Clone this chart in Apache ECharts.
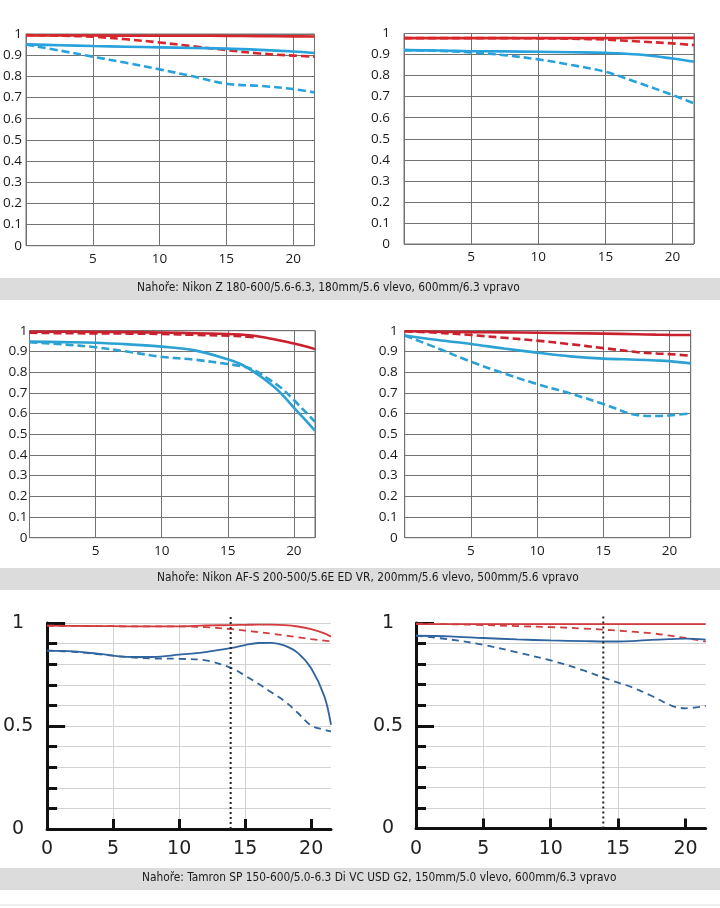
<!DOCTYPE html>
<html>
<head>
<meta charset="utf-8">
<script src="https://cdn.jsdelivr.net/npm/echarts@6/dist/echarts.min.js"></script>
<style>
  html, body { margin: 0; padding: 0; background: #fff; }
  #main { width: 720px; height: 908px; }
</style>
</head>
<body>
<div id="main"></div>
<script>
// ---- data (x = mm from centre, y = contrast) ----
// Nikon Z 180-600, 180mm/5.6
const nz180X        = [0, 2.5, 5, 7.5, 10, 12.5, 15, 17.5, 20, 21.6];
const nz180RedSolid = [0.993, 0.993, 0.993, 0.992, 0.992, 0.992, 0.991, 0.990, 0.989, 0.988];
const nz180RedDash  = [0.995, 0.992, 0.987, 0.975, 0.960, 0.942, 0.924, 0.908, 0.898, 0.893];
const nz180BlueSolid= [0.951, 0.947, 0.943, 0.940, 0.937, 0.934, 0.931, 0.925, 0.917, 0.910];
const nz180BlueDash = [0.950, 0.922, 0.893, 0.864, 0.833, 0.800, 0.765, 0.755, 0.740, 0.724];
// Nikon Z 180-600, 600mm/6.3
const nz600X        = [0, 2.5, 5, 7.5, 10, 12.5, 15, 17.5, 20, 21.6];
const nz600RedSolid = [0.978, 0.978, 0.978, 0.978, 0.978, 0.978, 0.978, 0.979, 0.979, 0.979];
const nz600RedDash  = [0.978, 0.978, 0.978, 0.978, 0.977, 0.975, 0.971, 0.962, 0.953, 0.945];
const nz600BlueSolid= [0.921, 0.919, 0.916, 0.915, 0.913, 0.911, 0.908, 0.900, 0.881, 0.866];
const nz600BlueDash = [0.921, 0.918, 0.910, 0.897, 0.877, 0.850, 0.818, 0.765, 0.708, 0.668];
// Nikon AF-S 200-500, 200mm/5.6
const afs200X        = [0, 2.5, 5, 7.5, 10, 12.5, 15, 16, 17, 18, 19, 20, 21, 21.6];
const afs200RedSolid = [0.995, 0.995, 0.994, 0.993, 0.991, 0.988, 0.984, 0.981, 0.976, 0.965, 0.952, 0.938, 0.922, 0.911];
const afs200RedDash  = [0.990, 0.988, 0.987, 0.986, 0.984, 0.980, 0.976, 0.973, 0.968, null, null, null, null, null];
const afs200BlueSolid= [0.947, 0.945, 0.942, 0.934, 0.923, 0.905, 0.862, 0.838, 0.800, 0.755, 0.700, 0.628, 0.560, 0.517];
const afs200BlueDash = [0.944, 0.934, 0.920, 0.898, 0.874, 0.860, 0.839, 0.829, 0.810, 0.770, 0.726, 0.665, 0.600, 0.560];
// Nikon AF-S 200-500, 500mm/5.6
const afs500X        = [0, 2.5, 5, 7.5, 10, 12.5, 15, 17.5, 19, 20, 21.6];
const afs500RedSolid = [0.997, 0.995, 0.993, 0.992, 0.990, 0.988, 0.986, 0.983, 0.981, 0.980, 0.979];
const afs500RedDash  = [0.997, 0.990, 0.979, 0.966, 0.952, 0.935, 0.916, 0.897, 0.890, 0.887, 0.879];
const afs500BlueSolid= [0.977, 0.955, 0.936, 0.914, 0.894, 0.876, 0.865, 0.860, 0.856, 0.853, 0.842];
const afs500BlueDash = [0.977, 0.915, 0.850, 0.794, 0.742, 0.697, 0.646, 0.593, 0.588, 0.591, 0.600];
// Tamron SP 150-600 G2, 150mm/5.0
const tam150X        = [0, 2, 4, 6, 8, 10, 12, 14, 15, 16, 17, 18, 19, 20, 21, 21.5];
const tam150RedSolid = [0.987, 0.986, 0.985, 0.984, 0.984, 0.984, 0.988, 0.990, 0.991, 0.992, 0.992, 0.990, 0.983, 0.970, 0.950, 0.934];
const tam150RedDash  = [0.987, 0.986, 0.985, 0.984, 0.984, 0.984, 0.980, 0.970, 0.963, 0.956, 0.948, 0.940, 0.931, 0.922, 0.914, 0.911];
const tam150BlueSolid= [0.866, 0.862, 0.850, 0.836, 0.835, 0.846, 0.859, 0.879, 0.893, 0.903, 0.904, 0.890, 0.854, 0.780, 0.644, 0.506];
const tam150BlueDash = [0.866, 0.860, 0.848, 0.835, 0.828, 0.826, 0.819, 0.780, 0.744, 0.705, 0.663, 0.620, 0.563, 0.502, 0.482, 0.474];
// Tamron SP 150-600 G2, 600mm/6.3
const tam600X        = [0, 2.5, 5, 7.5, 10, 12.5, 14, 15, 16, 17.5, 19, 20, 21.5];
const tam600RedSolid = [0.995, 0.995, 0.995, 0.995, 0.995, 0.995, 0.995, 0.995, 0.995, 0.995, 0.995, 0.995, 0.995];
const tam600RedDash  = [0.997, 0.994, 0.990, 0.985, 0.980, 0.973, 0.967, 0.963, 0.958, 0.950, 0.937, 0.927, 0.910];
const tam600BlueSolid= [0.938, 0.935, 0.927, 0.920, 0.915, 0.912, 0.910, 0.910, 0.912, 0.918, 0.922, 0.924, 0.919];
const tam600BlueDash = [0.938, 0.920, 0.894, 0.857, 0.818, 0.768, 0.732, 0.710, 0.688, 0.645, 0.597, 0.585, 0.597];

const tamronMarker = 13.9;   // dotted vertical line

const captions = [
  'Nahoře: Nikon Z 180-600/5.6-6.3, 180mm/5.6 vlevo, 600mm/6.3 vpravo',
  'Nahoře: Nikon AF-S 200-500/5.6E ED VR, 200mm/5.6 vlevo, 500mm/5.6 vpravo',
  'Nahoře: Tamron SP 150-600/5.0-6.3 Di VC USD G2, 150mm/5.0 vlevo, 600mm/6.3 vpravo'
];

// ---- layout ----
const panels = [
  { x: nz180X,  s: [nz180RedDash,  nz180RedSolid,  nz180BlueDash,  nz180BlueSolid],  style: 'nikon', grid: { left: 24.5, top: 34,    width: 290,   height: 211.7 }, xMax: 21.6, yMargin: 4,  red: '#d7262c', blue: '#27a2dc' },
  { x: nz600X,  s: [nz600RedDash,  nz600RedSolid,  nz600BlueDash,  nz600BlueSolid],  style: 'nikon', grid: { left: 404,  top: 33.5,  width: 290,   height: 210.5 }, xMax: 21.6, yMargin: 14, red: '#d7262c', blue: '#27a2dc' },
  { x: afs200X, s: [afs200RedDash, afs200RedSolid, afs200BlueDash, afs200BlueSolid], style: 'nikon', grid: { left: 29.5, top: 330.7, width: 285.5, height: 207 },   xMax: 21.6, yMargin: 2,  red: '#c9212e', blue: '#2ba2d3' },
  { x: afs500X, s: [afs500RedDash, afs500RedSolid, afs500BlueDash, afs500BlueSolid], style: 'nikon', grid: { left: 404.7,top: 330.7, width: 286,   height: 207 },   xMax: 21.6, yMargin: 7,  red: '#c9212e', blue: '#2ba2d3' },
  { x: tam150X, s: [tam150RedDash, tam150RedSolid, tam150BlueDash, tam150BlueSolid], style: 'tamron', grid: { left: 41.7, top: 623,  width: 289.3, height: 206 },   xMax: 21.5, yMargin: 29, red: '#d23c3e', blue: '#30649f' },
  { x: tam600X, s: [tam600RedDash, tam600RedSolid, tam600BlueDash, tam600BlueSolid], style: 'tamron', grid: { left: 416,  top: 623,   width: 289.7, height: 205.5 }, xMax: 21.5, yMargin: 28, red: '#d23c3e', blue: '#30649f' }
];

function pairs(xs, ys) {
  const out = [];
  for (let i = 0; i < xs.length; i++) {
    if (ys[i] != null) out.push([xs[i], ys[i]]);
  }
  return out;
}

const grids = [], xAxes = [], yAxes = [], series = [];

panels.forEach(function (p, i) {
  const nikon = p.style === 'nikon';
  grids.push(Object.assign({
    show: nikon,
    borderColor: '#727272',
    borderWidth: 1,
    containLabel: false
  }, p.grid));

  if (nikon) {
    xAxes.push({
      gridIndex: i, type: 'value', min: 0, max: p.xMax, interval: 5,
      axisLine: { show: false }, axisTick: { show: false },
      splitLine: { show: true, lineStyle: { color: '#727272', width: 1 } },
      axisLabel: {
        margin: 6, color: '#1a1a1a', fontSize: 13.5, fontFamily: 'Open Sans',
        formatter: function (v) { return (v > 0 && v % 5 === 0) ? String(v) : ''; }
      }
    });
    yAxes.push({
      gridIndex: i, type: 'value', min: 0, max: 1, interval: 0.1,
      axisLine: { show: false }, axisTick: { show: false },
      splitLine: { show: true, lineStyle: { color: '#727272', width: 1 } },
      axisLabel: {
        margin: p.yMargin, color: '#1a1a1a', fontSize: 13.5, fontFamily: 'Open Sans',
        formatter: function (v) { return v === 1 ? '1' : (v === 0 ? '0' : v.toFixed(1)); }
      }
    });
  } else {
    xAxes.push({
      gridIndex: i, type: 'value', min: 0, max: p.xMax, interval: 5,
      axisLine: { show: true, lineStyle: { color: '#111', width: 3 } },
      axisTick: { show: true, inside: true, length: 10, customValues: [5, 10, 15, 20], lineStyle: { color: '#111', width: 3 } },
      splitLine: { show: true, showMaxLine: false, lineStyle: { color: '#d2d2d2', width: 1 } },
      axisLabel: {
        margin: 11, color: '#222', fontSize: 19, fontFamily: 'DejaVu Sans',
        customValues: [0, 5, 10, 15, 20],
        formatter: function (v) { return v % 5 === 0 ? String(v) : ''; }
      }
    });
    yAxes.push({
      gridIndex: i, type: 'value', min: 0, max: 1, interval: 0.5,
      axisLine: { show: true, lineStyle: { color: '#111', width: 3 } },
      axisTick: { show: true, inside: true, length: 18, lineStyle: { color: '#111', width: 3 } },
      minorTick: { show: true, splitNumber: 5, length: 10, lineStyle: { color: '#111', width: 3 } },
      splitLine: { show: true, lineStyle: { color: '#d2d2d2', width: 1 } },
      minorSplitLine: { show: true, lineStyle: { color: '#d2d2d2', width: 1 } },
      axisLabel: {
        margin: p.yMargin, align: 'center', color: '#222', fontSize: 19, fontFamily: 'DejaVu Sans',
        formatter: function (v) { return v === 0.5 ? '0.5' : String(v); }
      }
    });
  }

  const w = nikon ? 2.6 : 1.8;
  const dash = nikon ? [8, 4] : [7, 5];
  const defs = [
    { data: p.s[0], color: p.red,  type: dash },
    { data: p.s[1], color: p.red,  type: 'solid' },
    { data: p.s[2], color: p.blue, type: dash },
    { data: p.s[3], color: p.blue, type: 'solid' }
  ];
  defs.forEach(function (d) {
    series.push({
      type: 'line', xAxisIndex: i, yAxisIndex: i,
      data: pairs(p.x, d.data),
      smooth: 0.35, showSymbol: false, symbol: 'none',
      lineStyle: { color: d.color, width: w, type: d.type },
      z: 3
    });
  });

  if (!nikon) {
    series.push({
      type: 'line', xAxisIndex: i, yAxisIndex: i,
      data: [[tamronMarker, 0], [tamronMarker, 1.035]],
      clip: false, showSymbol: false, symbol: 'none',
      lineStyle: { color: '#222', width: 2, type: [2, 3] },
      z: 4
    });
  }
});

// caption bars
const barTops = [278, 568, 868];
const textLeft = [137, 157, 142];
const graphic = [];
barTops.forEach(function (t, i) {
  graphic.push({
    type: 'rect', left: 0, top: t, silent: true,
    shape: { width: 720, height: 22 },
    style: { fill: '#dcdcdc' }
  });
  graphic.push({
    type: 'text', left: textLeft[i], top: t + 4, silent: true,
    style: { text: captions[i], fill: '#1a1a1a', font: '11.8px "DejaVu Sans Condensed"' }
  });
});
graphic.push({
  type: 'rect', left: 0, top: 904, silent: true,
  shape: { width: 720, height: 2 },
  style: { fill: '#efefef' }
});

const chart = echarts.init(document.getElementById('main'));
chart.setOption({
  animation: false,
  backgroundColor: '#fff',
  grid: grids,
  xAxis: xAxes,
  yAxis: yAxes,
  series: series,
  graphic: graphic
});
</script>
</body>
</html>
